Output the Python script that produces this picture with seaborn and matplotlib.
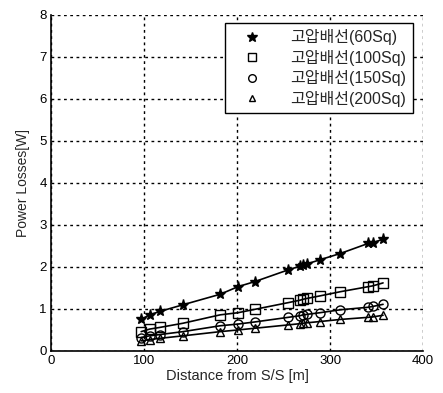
import matplotlib
matplotlib.use("Agg")
import matplotlib.pyplot as plt
from matplotlib.lines import Line2D
import seaborn as sns
import pandas as pd

# Distance points along the feeder [m]
distance = [97, 106, 117, 142, 182, 201, 219, 255, 268, 271, 275, 289, 311, 341, 346, 357]

# Power losses [W] for each cable size
loss_60sq = [0.75, 0.86, 0.94, 1.10, 1.35, 1.53, 1.65, 1.93, 2.02, 2.05, 2.07, 2.17, 2.32, 2.56, 2.58, 2.66]
loss_100sq = [0.46, 0.52, 0.56, 0.66, 0.86, 0.91, 0.99, 1.15, 1.21, 1.23, 1.25, 1.31, 1.41, 1.53, 1.55, 1.62]
loss_150sq = [0.32, 0.36, 0.39, 0.46, 0.60, 0.64, 0.69, 0.80, 0.84, 0.86, 0.87, 0.91, 0.98, 1.04, 1.06, 1.11]
loss_200sq = [0.24, 0.27, 0.30, 0.36, 0.46, 0.50, 0.54, 0.62, 0.65, 0.66, 0.67, 0.70, 0.75, 0.80, 0.81, 0.85]

labels = ["고압배선(60Sq)", "고압배선(100Sq)", "고압배선(150Sq)", "고압배선(200Sq)"]

sns.set_style("white")
plt.rcParams['font.family'] = ['Liberation Sans', 'Noto Sans CJK KR', 'DejaVu Sans']

fig = plt.figure(figsize=(4.43, 3.93), dpi=100)
ax = fig.add_axes([0.115, 0.107, 0.84, 0.855])

series = [loss_60sq, loss_100sq, loss_150sq, loss_200sq]
markers = ['*', 's', 'o', '^']
sizes = [8, 6.5, 6.5, 6]
handles = []
for vals, mk, ms, lab in zip(series, markers, sizes, labels):
    df = pd.DataFrame({'Distance': distance, 'Loss': vals})
    filled = mk == '*'
    sns.lineplot(data=df, x='Distance', y='Loss', ax=ax, color='black', lw=1.2,
                 marker=mk, markersize=ms, markeredgecolor='black',
                 markerfacecolor='black' if filled else 'none',
                 markeredgewidth=1.0, estimator=None, sort=False)
    handles.append(Line2D([], [], ls='none', marker=mk, markersize=ms - 1, color='black',
                          markerfacecolor='black' if filled else 'none',
                          markeredgewidth=1.0, label=lab))

ax.set_xlim(0, 400)
ax.set_ylim(0, 8)
ax.set_xticks([0, 100, 200, 300, 400])
ax.set_yticks(range(0, 9))
ax.grid(True, color='black', linestyle=(0, (2, 2.5)), linewidth=1.0)
ax.set_axisbelow(True)
for s in ['top', 'right']:
    ax.spines[s].set_visible(False)
for s in ['left', 'bottom']:
    ax.spines[s].set_color('black')
    ax.spines[s].set_linewidth(1.2)
ax.tick_params(labelsize=9.5, colors='black', length=0, pad=3)
ax.set_xlabel('Distance from S/S [m]', fontsize=10.5, labelpad=1)
ax.set_ylabel('Power Losses[W]', fontsize=10, labelpad=7)

leg = ax.legend(handles=handles, loc='upper right', bbox_to_anchor=(0.973, 0.976),
                fontsize=11.5, frameon=True, fancybox=False, edgecolor='black',
                borderpad=0.4, labelspacing=0.28, handletextpad=1.1, handlelength=2.6,
                borderaxespad=0)
leg.get_frame().set_linewidth(1.0)
leg.get_frame().set_alpha(1)

fig.savefig('out.png', dpi=100)
